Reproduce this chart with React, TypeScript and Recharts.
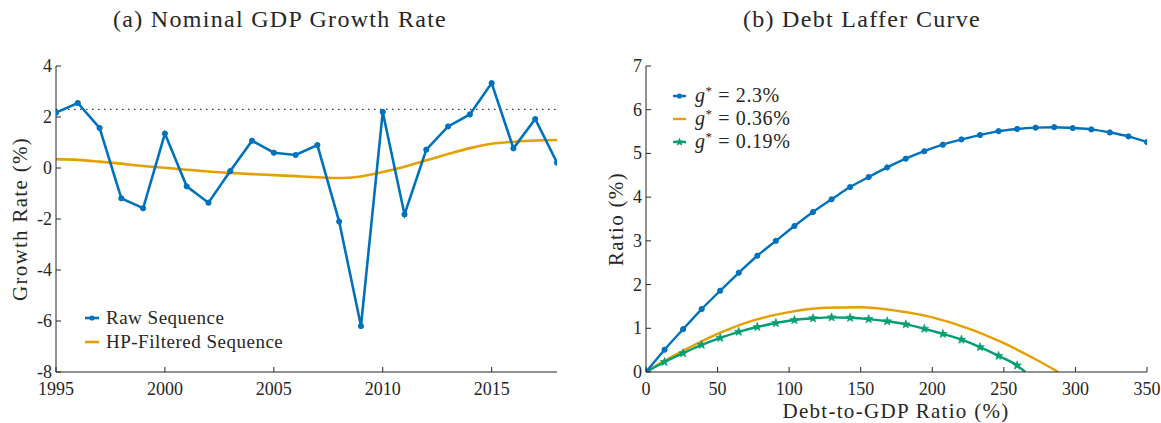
import React from "react";
import { LineChart, Line, XAxis, YAxis, ReferenceLine } from "recharts";

// ---------- Panel (a): nominal GDP growth ----------
const years = [1995, 1996, 1997, 1998, 1999, 2000, 2001, 2002, 2003, 2004, 2005, 2006, 2007, 2008, 2009, 2010, 2011, 2012, 2013, 2014, 2015, 2016, 2017, 2018];
const rawGrowth = [2.17, 2.55, 1.57, -1.19, -1.58, 1.35, -0.72, -1.36, -0.12, 1.07, 0.6, 0.51, 0.9, -2.1, -6.2, 2.2, -1.82, 0.72, 1.63, 2.1, 3.33, 0.77, 1.92, 0.21];
const hpGrowth = [0.35, 0.32, 0.25, 0.17, 0.08, 0.01, -0.07, -0.14, -0.19, -0.24, -0.28, -0.32, -0.36, -0.39, -0.33, -0.16, 0.05, 0.3, 0.55, 0.78, 0.95, 1.03, 1.08, 1.1];
const gStarLine = 2.3;
const yearTicks = [1995, 2000, 2005, 2010, 2015];
const growthTicks = [-8, -6, -4, -2, 0, 2, 4];

// ---------- Panel (b): debt Laffer curve ----------
const debtGrid = [0, 12.96, 25.93, 38.89, 51.85, 64.81, 77.78, 90.74, 103.7, 116.67, 129.63, 142.59, 155.56, 168.52, 181.48, 194.44, 207.41, 220.37, 233.33, 246.3, 259.26, 272.22, 285.19, 298.15, 311.11, 324.07, 337.04, 350];
const ratioG23 = [0, 0.51, 0.98, 1.44, 1.86, 2.27, 2.66, 3.0, 3.34, 3.66, 3.95, 4.23, 4.46, 4.68, 4.88, 5.05, 5.2, 5.32, 5.42, 5.51, 5.56, 5.59, 5.6, 5.58, 5.55, 5.48, 5.39, 5.26];
const debtG036 = [0, 12.5, 25, 37.5, 50, 75, 100, 125, 150, 175, 200, 225, 250, 275, 288];
const ratioG036 = [0, 0.25, 0.47, 0.68, 0.87, 1.18, 1.37, 1.47, 1.48, 1.4, 1.25, 1.0, 0.66, 0.24, 0];
const debtG019 = [0, 12.96, 25.93, 38.89, 51.85, 64.81, 77.78, 90.74, 103.7, 116.67, 129.63, 142.59, 155.56, 168.52, 181.48, 194.44, 207.41, 220.37, 233.33, 246.3, 259.26, 265];
const ratioG019 = [0, 0.23, 0.43, 0.62, 0.78, 0.92, 1.03, 1.12, 1.19, 1.23, 1.25, 1.24, 1.21, 1.16, 1.09, 0.99, 0.87, 0.74, 0.57, 0.37, 0.15, 0];
const debtTicks = [0, 50, 100, 150, 200, 250, 300, 350];
const ratioTicks = [0, 1, 2, 3, 4, 5, 6, 7];

const BLUE = "#0072BD";
const ORANGE = "#E69F00";
const GREEN = "#009E73";
const AXIS = "#262626";
const FONT = "Liberation Serif";

const growthData = years.map((y, i) => ({ x: y, raw: rawGrowth[i], hp: hpGrowth[i] }));
const g23Data = debtGrid.map((x, i) => ({ x, y: ratioG23[i] }));
const g036Data = debtG036.map((x, i) => ({ x, y: ratioG036[i] }));
const g019Data = debtG019.map((x, i) => ({ x, y: ratioG019[i] }));

const TM_X = 10;
const TM_Y = 4;
const TICK_LEN = 5;

const XTick = (props: any) => {
  const { x, y, payload } = props;
  const ay = y - TM_X;
  return (
    <g>
      <line x1={x} x2={x} y1={ay} y2={ay - TICK_LEN} stroke={AXIS} strokeWidth={1} />
      <text x={x} y={y} dy="0.71em" textAnchor="middle" style={{ fontFamily: FONT, fontSize: 18, fill: AXIS }}>
        {payload.value}
      </text>
    </g>
  );
};

const YTick = (props: any) => {
  const { x, y, payload } = props;
  const ax = x + TM_Y;
  return (
    <g>
      <line x1={ax} x2={ax + TICK_LEN} y1={y} y2={y} stroke={AXIS} strokeWidth={1} />
      <text x={x} y={y} dy="0.33em" textAnchor="end" style={{ fontFamily: FONT, fontSize: 18, fill: AXIS }}>
        {String(payload.value).replace("\u2212", "-")}
      </text>
    </g>
  );
};

const starPoints = (cx: number, cy: number, ro: number, ri: number) => {
  const pts: string[] = [];
  for (let k = 0; k < 10; k++) {
    const r = k % 2 === 0 ? ro : ri;
    const a = -Math.PI / 2 + (k * Math.PI) / 5;
    pts.push(`${cx + r * Math.cos(a)},${cy + r * Math.sin(a)}`);
  }
  return pts.join(" ");
};

const StarDot = (props: any) => {
  const { cx, cy, index } = props;
  if (index === debtG019.length - 1 || cx == null) return <g key={`s${index}`} />;
  return <polygon key={`s${index}`} points={starPoints(cx, cy, 4.6, 1.9)} fill={GREEN} stroke={GREEN} strokeWidth={0.6} />;
};

const RoundDot = (props: any) => {
  const { cx, cy, index } = props;
  if (cx == null) return <g key={`d${index}`} />;
  return <circle key={`d${index}`} cx={cx} cy={cy} r={2.6} fill={BLUE} stroke={BLUE} />;
};

const ts = (size: number, spacing = 0): React.CSSProperties => ({ fontFamily: FONT, fontSize: size, letterSpacing: spacing, fill: AXIS });

export default function App() {
  return (
    <div style={{ position: "fixed", left: 0, top: 0, width: 1161, height: 423, background: "#fff" }}>
      <div style={{ position: "absolute", left: 0, top: 0 }}>
        <LineChart width={580} height={423} data={growthData} margin={{ top: 66, right: 23, bottom: 0, left: 0 }}>
          <XAxis
            dataKey="x"
            type="number"
            domain={[1995, 2018]}
            ticks={yearTicks}
            allowDataOverflow
            height={51}
            tickSize={0}
            tickMargin={TM_X}
            tickLine={false}
            tick={<XTick />}
            axisLine={{ stroke: AXIS, strokeWidth: 1 }}
            interval={0}
          />
          <YAxis
            type="number"
            domain={[-8, 4]}
            ticks={growthTicks}
            allowDataOverflow
            width={56}
            tickSize={0}
            tickMargin={TM_Y}
            tickLine={false}
            tick={<YTick />}
            axisLine={{ stroke: AXIS, strokeWidth: 1 }}
            interval={0}
          />
          <ReferenceLine y={gStarLine} stroke="#333" strokeWidth={1.1} strokeDasharray="1.5 4.5" ifOverflow="hidden" />
          <Line type="monotone" dataKey="hp" stroke={ORANGE} strokeWidth={2.6} dot={false} isAnimationActive={false} />
          <Line type="linear" dataKey="raw" stroke={BLUE} strokeWidth={2.6} dot={<RoundDot />} isAnimationActive={false} />
        </LineChart>
      </div>
      <div style={{ position: "absolute", left: 580, top: 0 }}>
        <LineChart width={581} height={423} margin={{ top: 66, right: 14, bottom: 0, left: 0 }}>
          <XAxis
            dataKey="x"
            type="number"
            domain={[0, 350]}
            ticks={debtTicks}
            allowDataOverflow
            height={51}
            tickSize={0}
            tickMargin={TM_X}
            tickLine={false}
            tick={<XTick />}
            axisLine={{ stroke: AXIS, strokeWidth: 1 }}
            interval={0}
          />
          <YAxis
            type="number"
            domain={[0, 7]}
            ticks={ratioTicks}
            allowDataOverflow
            width={66}
            tickSize={0}
            tickMargin={TM_Y}
            tickLine={false}
            tick={<YTick />}
            axisLine={{ stroke: AXIS, strokeWidth: 1 }}
            interval={0}
          />
          <Line data={g036Data} type="monotone" dataKey="y" stroke={ORANGE} strokeWidth={2.4} dot={false} isAnimationActive={false} />
          <Line data={g019Data} type="monotone" dataKey="y" stroke={GREEN} strokeWidth={2.4} dot={<StarDot />} isAnimationActive={false} />
          <Line data={g23Data} type="monotone" dataKey="y" stroke={BLUE} strokeWidth={2.4} dot={<RoundDot />} isAnimationActive={false} />
        </LineChart>
      </div>
      <svg width={1161} height={423} style={{ position: "absolute", left: 0, top: 0, pointerEvents: "none" }}>
        {/* titles */}
        <text x={280} y={27} textAnchor="middle" style={ts(24, 1.3)}>
          (a) Nominal GDP Growth Rate
        </text>
        <text x={862} y={27} textAnchor="middle" style={ts(24, 1.3)}>
          (b) Debt Laffer Curve
        </text>
        {/* axis labels */}
        <text x={0} y={0} transform="translate(27,219) rotate(-90)" textAnchor="middle" style={ts(21, 1.3)}>
          Growth Rate (%)
        </text>
        <text x={0} y={0} transform="translate(623,219) rotate(-90)" textAnchor="middle" style={ts(21, 1.3)}>
          Ratio (%)
        </text>
        <text x={896} y={418} textAnchor="middle" style={ts(21, 1.3)}>
          Debt-to-GDP Ratio (%)
        </text>
        {/* legend (a) */}
        <line x1={85} x2={99} y1={318} y2={318} stroke={BLUE} strokeWidth={2.6} />
        <circle cx={92} cy={318} r={2.6} fill={BLUE} />
        <text x={106} y={324} style={ts(19, 0.5)}>Raw Sequence</text>
        <line x1={85} x2={99} y1={342} y2={342} stroke={ORANGE} strokeWidth={2.6} />
        <text x={106} y={348} style={ts(19, 0.5)}>HP-Filtered Sequence</text>
        {/* legend (b) */}
        <line x1={673} x2={686} y1={96} y2={96} stroke={BLUE} strokeWidth={2.4} />
        <circle cx={679.5} cy={96} r={2.6} fill={BLUE} />
        <text x={695} y={102} style={ts(20, 0.6)}>
          <tspan fontStyle="italic">g</tspan>
          <tspan dy={-7} fontSize={13}>*</tspan>
          <tspan dy={7}> = 2.3%</tspan>
        </text>
        <line x1={673} x2={686} y1={119} y2={119} stroke={ORANGE} strokeWidth={2.4} />
        <text x={695} y={125} style={ts(20, 0.6)}>
          <tspan fontStyle="italic">g</tspan>
          <tspan dy={-7} fontSize={13}>*</tspan>
          <tspan dy={7}> = 0.36%</tspan>
        </text>
        <line x1={673} x2={686} y1={142} y2={142} stroke={GREEN} strokeWidth={2.4} />
        <polygon points={starPoints(679.5, 142, 4.6, 1.9)} fill={GREEN} />
        <text x={695} y={148} style={ts(20, 0.6)}>
          <tspan fontStyle="italic">g</tspan>
          <tspan dy={-7} fontSize={13}>*</tspan>
          <tspan dy={7}> = 0.19%</tspan>
        </text>
      </svg>
    </div>
  );
}
